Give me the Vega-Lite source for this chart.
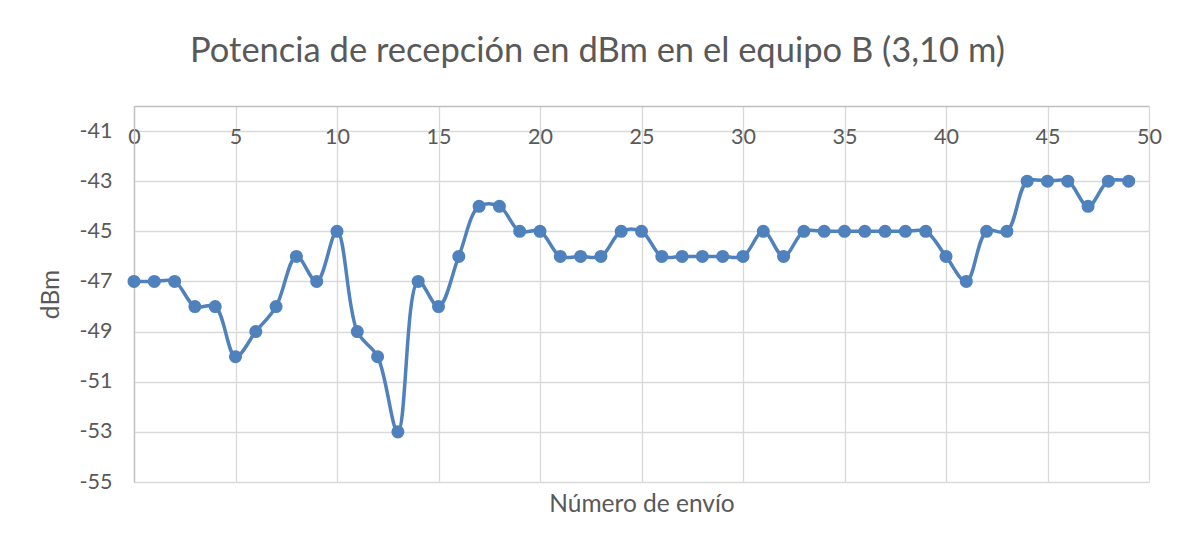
{
  "$schema": "https://vega.github.io/schema/vega-lite/v6.json",
  "width": 1015,
  "height": 376,
  "autosize": "none",
  "padding": {"left": 134, "top": 106, "right": 40, "bottom": 64},
  "background": "white",
  "title": {
    "text": "Potencia de recepción en dBm en el equipo B (3,10 m)",
    "font": "Lato",
    "fontSize": 34.5,
    "fontWeight": "normal",
    "color": "#595959",
    "anchor": "middle",
    "frame": "group",
    "baseline": "alphabetic",
    "dx": -44,
    "offset": 10
  },
  "config": {
    "view": {"stroke": null},
    "axis": {
      "labelFont": "Lato",
      "labelFontSize": 21.5,
      "labelColor": "#595959",
      "titleFont": "Lato",
      "titleFontSize": 24.5,
      "titleFontWeight": "normal",
      "titleColor": "#595959",
      "gridColor": "#d9d9d9",
      "gridWidth": 1.3,
      "domainColor": "#bfbfbf",
      "domainWidth": 1.3,
      "ticks": false,
      "tickSize": 0
    }
  },
  "data": {
    "values": [
      {"envio": 0, "dbm": -47}, {"envio": 1, "dbm": -47}, {"envio": 2, "dbm": -47},
      {"envio": 3, "dbm": -48}, {"envio": 4, "dbm": -48}, {"envio": 5, "dbm": -50},
      {"envio": 6, "dbm": -49}, {"envio": 7, "dbm": -48}, {"envio": 8, "dbm": -46},
      {"envio": 9, "dbm": -47}, {"envio": 10, "dbm": -45}, {"envio": 11, "dbm": -49},
      {"envio": 12, "dbm": -50}, {"envio": 13, "dbm": -53}, {"envio": 14, "dbm": -47},
      {"envio": 15, "dbm": -48}, {"envio": 16, "dbm": -46}, {"envio": 17, "dbm": -44},
      {"envio": 18, "dbm": -44}, {"envio": 19, "dbm": -45}, {"envio": 20, "dbm": -45},
      {"envio": 21, "dbm": -46}, {"envio": 22, "dbm": -46}, {"envio": 23, "dbm": -46},
      {"envio": 24, "dbm": -45}, {"envio": 25, "dbm": -45}, {"envio": 26, "dbm": -46},
      {"envio": 27, "dbm": -46}, {"envio": 28, "dbm": -46}, {"envio": 29, "dbm": -46},
      {"envio": 30, "dbm": -46}, {"envio": 31, "dbm": -45}, {"envio": 32, "dbm": -46},
      {"envio": 33, "dbm": -45}, {"envio": 34, "dbm": -45}, {"envio": 35, "dbm": -45},
      {"envio": 36, "dbm": -45}, {"envio": 37, "dbm": -45}, {"envio": 38, "dbm": -45},
      {"envio": 39, "dbm": -45}, {"envio": 40, "dbm": -46}, {"envio": 41, "dbm": -47},
      {"envio": 42, "dbm": -45}, {"envio": 43, "dbm": -45}, {"envio": 44, "dbm": -43},
      {"envio": 45, "dbm": -43}, {"envio": 46, "dbm": -43}, {"envio": 47, "dbm": -44},
      {"envio": 48, "dbm": -43}, {"envio": 49, "dbm": -43}
    ]
  },
  "layer": [
    {
      "mark": {"type": "line", "interpolate": "catmull-rom", "color": "#4f81bd", "strokeWidth": 3.5},
      "encoding": {
        "x": {
          "field": "envio", "type": "quantitative",
          "scale": {"domain": [0, 50], "nice": false, "zero": false},
          "axis": {
            "orient": "top", "title": null,
            "values": [0, 5, 10, 15, 20, 25, 30, 35, 40, 45, 50],
            "labelBaseline": "top", "labelPadding": -20,
            "labelFlush": false, "labelOverlap": false,
            "grid": true, "domain": true
          }
        },
        "y": {
          "field": "dbm", "type": "quantitative",
          "scale": {"domain": [-55, -40], "nice": false, "zero": false},
          "axis": {
            "title": "dBm",
            "values": [-55, -53, -51, -49, -47, -45, -43, -41],
            "labelExpr": "replace(datum.label, '−', '-')",
            "labelPadding": 22,
            "titlePadding": 16,
            "grid": true, "domain": true
          }
        }
      }
    },
    {
      "mark": {"type": "point", "filled": true, "size": 170, "opacity": 1, "color": "#4f81bd"},
      "encoding": {
        "x": {
          "field": "envio", "type": "quantitative",
          "scale": {"domain": [0, 50], "nice": false, "zero": false},
          "axis": {
            "orient": "bottom", "title": "Número de envío",
            "labels": false, "domain": false, "grid": false, "titlePadding": 10
          }
        },
        "y": {"field": "dbm", "type": "quantitative"}
      }
    }
  ],
  "resolve": {"axis": {"x": "independent"}}
}
